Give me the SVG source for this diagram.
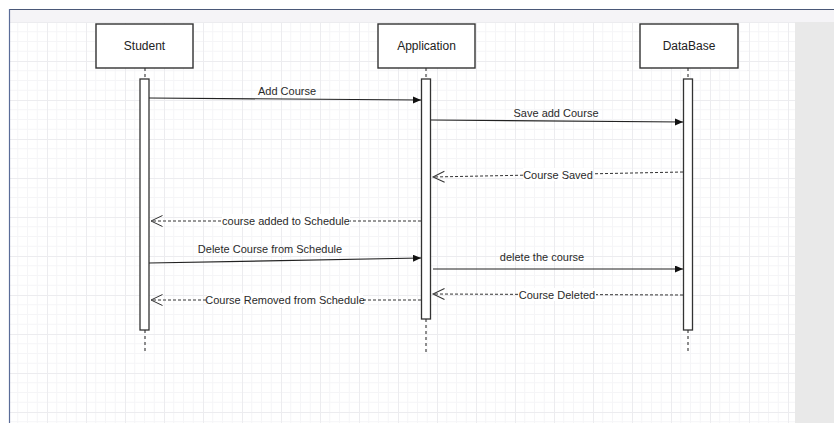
<svg xmlns="http://www.w3.org/2000/svg" width="834" height="423" viewBox="0 0 834 423">
<style>
.box{fill:#ffffff;stroke:#333333;stroke-width:1.4}
.bar{fill:#ffffff;stroke:#333333;stroke-width:1.3}
.life{stroke:#444444;stroke-width:1.2;stroke-dasharray:3 3;fill:none}
.msg{stroke:#222222;stroke-width:1.2;fill:none}
.ret{stroke:#333333;stroke-width:1;stroke-dasharray:3 2;fill:none}
.t{font-family:"Liberation Sans",Arial,sans-serif;font-size:11px;fill:#2a2a2a;text-anchor:middle}
.n{font-family:"Liberation Sans",Arial,sans-serif;font-size:12px;fill:#222222;text-anchor:middle}
.lbg{fill:#ffffff}
</style>
<defs>
<pattern id="grid" x="8" y="22" width="39" height="39" patternUnits="userSpaceOnUse">
<path d="M9.75 0V39M19.5 0V39M29.25 0V39M0 9.75H39M0 19.5H39M0 29.25H39" stroke="#f5f5f7" stroke-width="1" fill="none"/>
<path d="M0.5 0V39M0 0.5H39" stroke="#ececef" stroke-width="1" fill="none"/>
</pattern>
<marker id="fa" markerUnits="userSpaceOnUse" markerWidth="9" markerHeight="8" refX="8" refY="3.5" orient="auto">
<path d="M0,0 L8,3.5 L0,7 Z" fill="#111111"/>
</marker>
<marker id="oa" markerUnits="userSpaceOnUse" markerWidth="14" markerHeight="14" refX="12.5" refY="6.5" orient="auto">
<path d="M1,1 L12.5,6.5 L1,12" fill="none" stroke="#333333" stroke-width="1"/>
</marker>
</defs>
<rect x="0" y="0" width="834" height="423" fill="#ffffff"/>
<rect x="9" y="10" width="825" height="413" fill="#ffffff"/>
<rect x="9" y="22" width="786" height="401" fill="url(#grid)"/>
<rect x="795" y="22" width="39" height="401" fill="#e9e9e9"/>
<rect x="9" y="10" width="825" height="12" fill="#f5f4f7"/>
<line x1="9" y1="9.5" x2="834" y2="9.5" stroke="#4a5878" stroke-width="1.2"/>
<line x1="9.5" y1="9" x2="9.5" y2="423" stroke="#5a6c98" stroke-width="1.2"/>

<g id="lifelines">
<path class="life" d="M145 68V78M145 330V353M426 68V78M426 319V353M688 68V78M688 330V353"/>
</g>

<g id="student">
<rect class="box" x="96" y="24" width="97" height="44"/>
<text class="n" x="144.5" y="50">Student</text>
<rect class="bar" x="140" y="79" width="9" height="251"/>
</g>
<g id="application">
<rect class="box" x="378" y="24" width="97" height="44"/>
<text class="n" x="426.5" y="50">Application</text>
<rect class="bar" x="421.5" y="79" width="9" height="240"/>
</g>
<g id="database">
<rect class="box" x="640" y="24" width="98" height="44"/>
<text class="n" x="689" y="50">DataBase</text>
<rect class="bar" x="683.5" y="79" width="9" height="251"/>
</g>

<g id="connectors">
<path class="msg" d="M149 98 L421 100" marker-end="url(#fa)"/>
<text class="t" x="287" y="95">Add Course</text>

<path class="msg" d="M431 120 L683 122" marker-end="url(#fa)"/>
<text class="t" x="556" y="117">Save add Course</text>

<path class="ret" d="M683 172 L433 177" marker-end="url(#oa)"/>
<rect class="lbg" x="523" y="168" width="70" height="13"/>
<text class="t" x="558" y="179">Course Saved</text>

<path class="ret" d="M421 221 L151 221" marker-end="url(#oa)"/>
<rect class="lbg" x="222" y="214" width="128" height="13"/>
<text class="t" x="286" y="225">course added to Schedule</text>

<path class="msg" d="M149 263 L421 258" marker-end="url(#fa)"/>
<text class="t" x="270" y="253">Delete Course from Schedule</text>

<path class="msg" d="M433 269 L683 269" marker-end="url(#fa)"/>
<text class="t" x="542" y="261">delete the course</text>

<path class="ret" d="M683 295 L433 294" marker-end="url(#oa)"/>
<rect class="lbg" x="518" y="288" width="78" height="13"/>
<text class="t" x="557" y="299">Course Deleted</text>

<path class="ret" d="M421 300 L151 300" marker-end="url(#oa)"/>
<rect class="lbg" x="207" y="293" width="156" height="13"/>
<text class="t" x="285" y="304">Course Removed from Schedule</text>
</g>
</svg>
